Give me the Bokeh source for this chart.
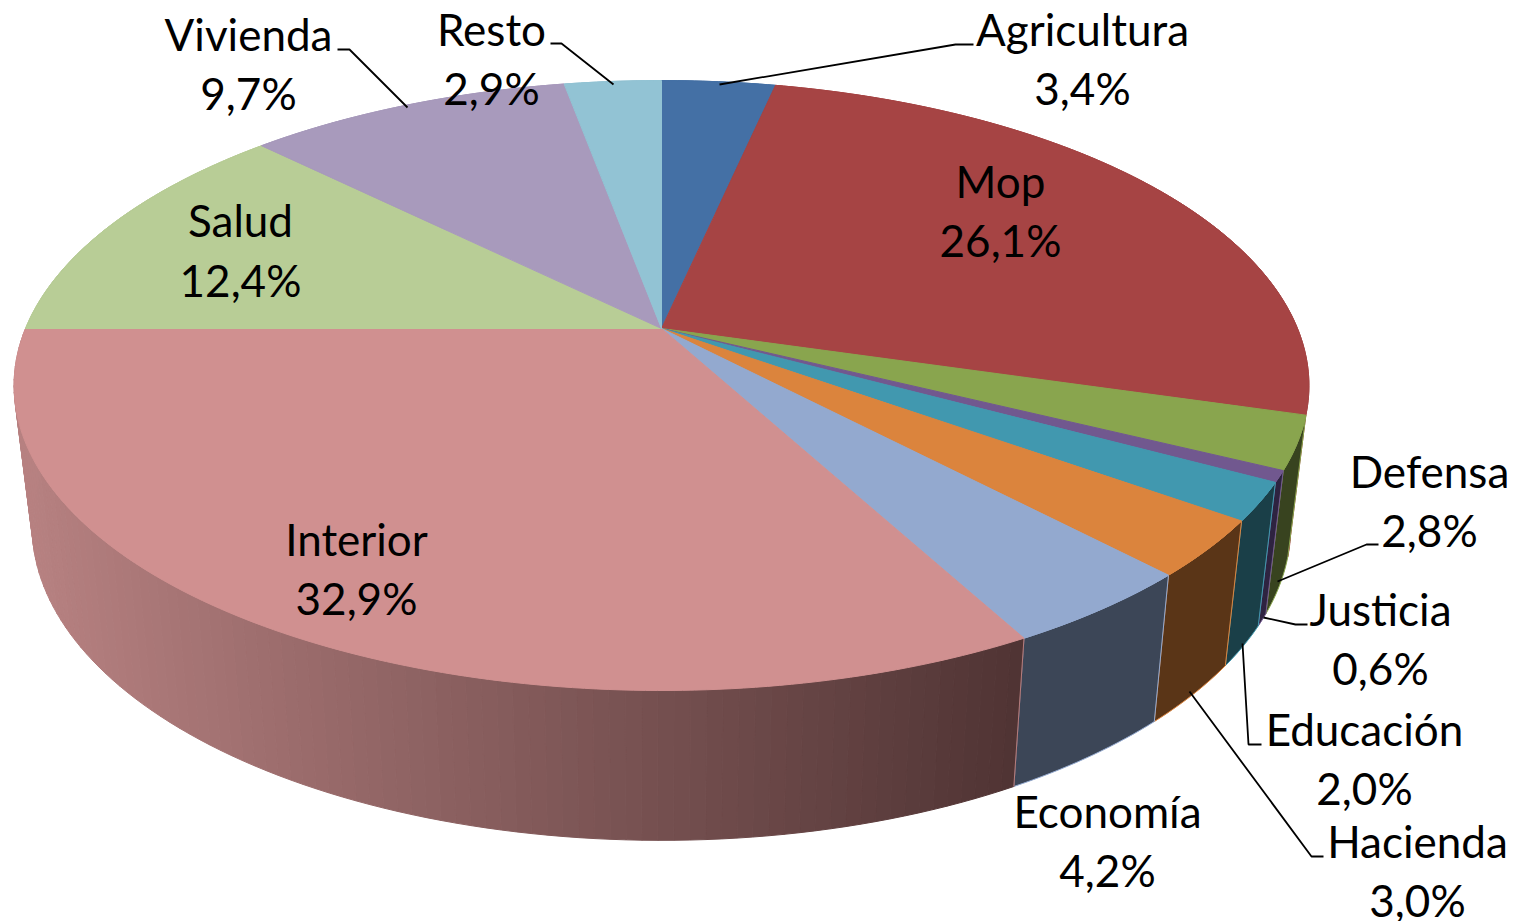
import numpy as np
from bokeh.plotting import figure
from bokeh.models import ColumnDataSource, Range1d
from bokeh.core.properties import value
from bokeh.embed import file_html
from bokeh.resources import INLINE

# ---- data (clockwise from 12 o'clock) ----
categories = ["Agricultura", "Mop", "Defensa", "Justicia", "Educación", "Hacienda",
              "Economía", "Interior", "Salud", "Vivienda", "Resto"]
shares = [3.4, 26.1, 2.8, 0.6, 2.0, 3.0, 4.2, 32.9, 12.4, 9.7, 2.9]

# ---- styles ----
top_colors = ["#4470A5", "#A64444", "#89A54E", "#71588F", "#4198AF", "#DB843D",
              "#93A9CF", "#D09090", "#B8CD96", "#A89ABC", "#92C3D4"]
wall_colors = ["#223852", "#532222", "#38431F", "#2E2340", "#1A3F48", "#5A3517",
               "#3C4657", "#6E4A4A", "#5C664B", "#544D5E", "#49616A"]
wall_left, wall_right = np.array([0xB8, 0x82, 0x82]), np.array([0x50, 0x34, 0x34])

# ---- projection of the tilted disc, in page pixels ----
CX, CY = 661.0, 328.0
KX, AY, PERSP = 636.0, 294.3, 0.187
BOT_X, BOT_DY, BOT_SY = 0.972, 467.0 - 328.0, 1.03


def top_rim(share_pos):
    t = np.asarray(share_pos) / 100 * 2 * np.pi
    u, v = np.sin(t), np.cos(t)
    d = 1 + PERSP * v
    return CX + KX * u / d, CY - AY * v / d


def bottom_rim(share_pos):
    x, y = top_rim(share_pos)
    return CX + BOT_X * (x - CX), CY + BOT_DY + BOT_SY * (y - CY)


def arc(a, b, per_pct=4):
    return np.linspace(a, b, max(3, int((b - a) * per_pct) + 2))


edges = np.concatenate([[0], np.cumsum(shares)])

p = figure(width=1513, height=921, output_backend="svg", toolbar_location=None,
           x_range=Range1d(0, 1513), y_range=Range1d(921, 0),
           min_border=0, outline_line_color=None, background_fill_color="white",
           border_fill_color="white")
p.axis.visible = False
p.grid.visible = False

# ---- walls, back to front ----
wall_order = [0, 10, 9, 8, 1, 2, 3, 4, 5, 6]
xs, ys, fills = [], [], []
for i in wall_order:
    s = arc(edges[i], edges[i + 1])
    tx, ty = top_rim(s)
    bx, by = bottom_rim(s)
    xs.append(np.concatenate([tx, bx[::-1]]).tolist())
    ys.append(np.concatenate([ty, by[::-1]]).tolist())
    fills.append(wall_colors[i])
lines = [top_colors[i] for i in wall_order]
p.patches("x", "y", source=ColumnDataSource(dict(x=xs, y=ys, f=fills, l=lines)),
          fill_color="f", line_color="l", line_width=1)

# ---- the long Interior wall carries a left-to-right shade ----
k = categories.index("Interior")
s = arc(edges[k], edges[k + 1], per_pct=3)
tx, ty = top_rim(s)
bx, by = bottom_rim(s)
xs, ys, fills = [], [], []
xmin, xmax = 30.0, 1014.0
for j in range(len(s) - 1):
    xs.append([tx[j], tx[j + 1], bx[j + 1], bx[j]])
    ys.append([ty[j], ty[j + 1], by[j + 1], by[j]])
    f = np.clip(((bx[j] + bx[j + 1]) / 2 - xmin) / (xmax - xmin), 0, 1)
    c = (wall_left + (wall_right - wall_left) * f).astype(int)
    fills.append("#%02x%02x%02x" % tuple(c))
p.patches("x", "y", source=ColumnDataSource(dict(x=xs, y=ys, f=fills)),
          fill_color="f", line_color="f", line_width=1)
p.line([bx[0], tx[0]], [by[0], ty[0]], line_color=top_colors[k], line_width=1, line_alpha=0.8)

# ---- top face ----
xs, ys = [], []
for i in range(len(shares)):
    s = arc(edges[i], edges[i + 1])
    tx, ty = top_rim(s)
    xs.append([CX] + tx.tolist())
    ys.append([CY] + ty.tolist())
p.patches("x", "y", source=ColumnDataSource(dict(x=xs, y=ys, f=top_colors)),
          fill_color="f", line_color="f", line_width=1)

# ---- leader lines ----
leader_x = [[973, 955, 719], [550, 561, 613], [337, 349, 407], [1378, 1366, 1277],
            [1307, 1295, 1263], [1261, 1248, 1242], [1323, 1311, 1189]]
leader_y = [[44, 44, 84], [43, 43, 84], [49, 49, 107], [544, 544, 581],
            [624, 624, 617], [744, 744, 643], [856, 856, 691]]
p.multi_line(leader_x, leader_y, line_color="black", line_width=1.8)

# ---- labels ----
label_x = [1082, 1000, 1429, 1380, 1364, 1417, 1107, 356, 240, 248, 491]
name_y = [28, 180, 470, 608, 728, 840, 810, 538, 219, 33, 28]
pct_y = [87, 239, 529, 667, 787, 899, 869, 597, 279, 92, 87]
pct_text = [f"{v:.1f}%".replace(".", ",") for v in shares]
p.text(label_x + label_x, name_y + pct_y, text=categories + pct_text,
       text_font=value("Lato"), text_font_size="44px", text_color="black",
       text_align="center", text_baseline="middle")

open("out.html", "w").write(file_html(p, INLINE))
